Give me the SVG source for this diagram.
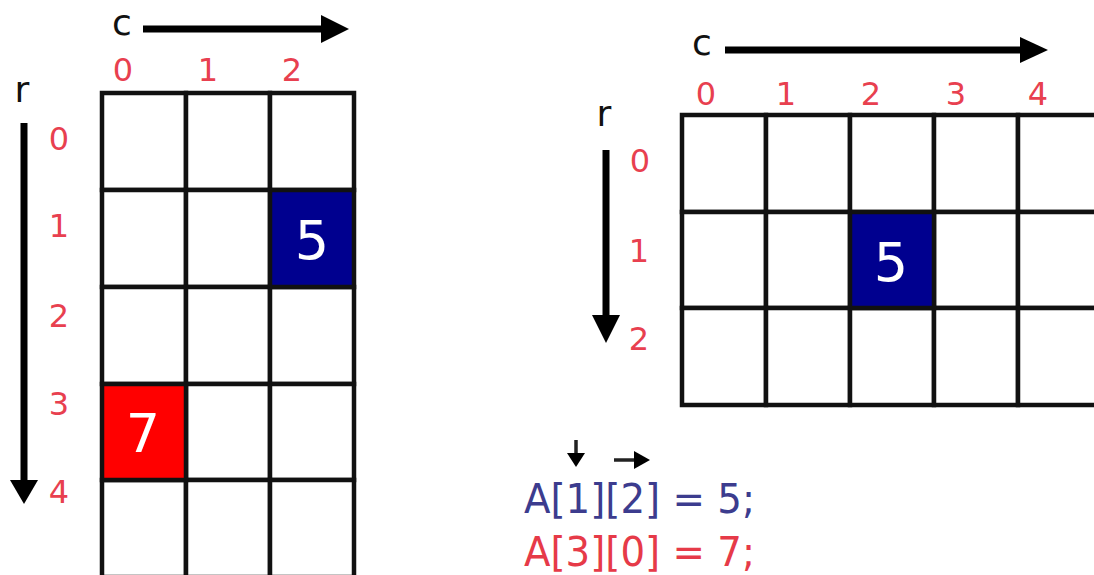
<svg xmlns="http://www.w3.org/2000/svg" width="1094" height="575" viewBox="0 0 1094 575">
<style>
.bg{fill:#ffffff}
.cell{fill:#ffffff;stroke:#111111;stroke-width:4.5}
.blue{fill:#00008f;stroke:#111111;stroke-width:4.5}
.red{fill:#ff0000;stroke:#111111;stroke-width:4.5}
.idx{font-family:"DejaVu Sans",Verdana,sans-serif;font-size:32px;fill:#e8404f;text-anchor:middle}
.axis{font-family:"DejaVu Sans",Verdana,sans-serif;font-size:36px;fill:#111111;text-anchor:middle}
.val{font-family:"DejaVu Sans",Verdana,sans-serif;font-size:54px;fill:#ffffff;text-anchor:middle}
.code{font-family:"DejaVu Sans",Verdana,sans-serif;font-size:40px}
.shaft{stroke:#000000;stroke-width:7;fill:none}
.thin{stroke:#222222;stroke-width:3.5;fill:none}
.head{fill:#000000}
</style>
<rect class="bg" x="0" y="0" width="1094" height="575"/>

<g id="left-grid">
  <rect class="cell" x="102" y="93" width="84" height="97"/>
  <rect class="cell" x="186" y="93" width="84" height="97"/>
  <rect class="cell" x="270" y="93" width="84" height="97"/>
  <rect class="cell" x="102" y="190" width="84" height="97"/>
  <rect class="cell" x="186" y="190" width="84" height="97"/>
  <rect class="cell" x="102" y="287" width="84" height="97"/>
  <rect class="cell" x="186" y="287" width="84" height="97"/>
  <rect class="cell" x="270" y="287" width="84" height="97"/>
  <rect class="cell" x="186" y="384" width="84" height="96"/>
  <rect class="cell" x="270" y="384" width="84" height="96"/>
  <rect class="cell" x="102" y="480" width="84" height="97"/>
  <rect class="cell" x="186" y="480" width="84" height="97"/>
  <rect class="cell" x="270" y="480" width="84" height="97"/>
</g>
<g id="left-cell-1-2">
  <rect class="blue" x="270" y="190" width="84" height="97"/>
  <text class="val" x="312" y="259">5</text>
</g>
<g id="left-cell-3-0">
  <rect class="red" x="102" y="384" width="84" height="96"/>
  <text class="val" x="143" y="452">7</text>
</g>
<g id="left-labels">
  <text class="axis" x="122" y="35">c</text>
  <text class="axis" x="22" y="102">r</text>
  <text class="idx" x="123" y="81">0</text>
  <text class="idx" x="208" y="81">1</text>
  <text class="idx" x="292" y="81">2</text>
  <text class="idx" x="59" y="150">0</text>
  <text class="idx" x="59" y="237">1</text>
  <text class="idx" x="59" y="327">2</text>
  <text class="idx" x="59" y="415">3</text>
  <text class="idx" x="59" y="503">4</text>
</g>

<g id="right-grid">
  <rect class="cell" x="682" y="115" width="84" height="97"/>
  <rect class="cell" x="766" y="115" width="84" height="97"/>
  <rect class="cell" x="850" y="115" width="84" height="97"/>
  <rect class="cell" x="934" y="115" width="84" height="97"/>
  <rect class="cell" x="1018" y="115" width="84" height="97"/>
  <rect class="cell" x="682" y="212" width="84" height="96"/>
  <rect class="cell" x="766" y="212" width="84" height="96"/>
  <rect class="cell" x="934" y="212" width="84" height="96"/>
  <rect class="cell" x="1018" y="212" width="84" height="96"/>
  <rect class="cell" x="682" y="308" width="84" height="97"/>
  <rect class="cell" x="766" y="308" width="84" height="97"/>
  <rect class="cell" x="850" y="308" width="84" height="97"/>
  <rect class="cell" x="934" y="308" width="84" height="97"/>
  <rect class="cell" x="1018" y="308" width="84" height="97"/>
</g>
<g id="right-cell-1-2">
  <rect class="blue" x="850" y="212" width="84" height="96"/>
  <text class="val" x="891" y="281">5</text>
</g>
<g id="right-labels">
  <text class="axis" x="702" y="55">c</text>
  <text class="axis" x="604" y="126">r</text>
  <text class="idx" x="706" y="105">0</text>
  <text class="idx" x="786" y="105">1</text>
  <text class="idx" x="871" y="105">2</text>
  <text class="idx" x="956" y="105">3</text>
  <text class="idx" x="1038" y="105">4</text>
  <text class="idx" x="640" y="172">0</text>
  <text class="idx" x="639" y="262">1</text>
  <text class="idx" x="639" y="350">2</text>
</g>

<g id="connectors">
  <line class="shaft" x1="143" y1="29" x2="324" y2="29"/>
  <polygon class="head" points="321,15 349,29 321,43"/>
  <line class="shaft" x1="24" y1="123" x2="24" y2="482"/>
  <polygon class="head" points="10,480 38,480 24,504"/>
  <line class="shaft" x1="725" y1="50" x2="1022" y2="50"/>
  <polygon class="head" points="1020,37 1048,50 1020,63"/>
  <line class="shaft" x1="606" y1="150" x2="606" y2="318"/>
  <polygon class="head" points="592,315 620,315 606,343"/>
  <line class="thin" x1="576" y1="440" x2="576" y2="456"/>
  <polygon class="head" points="567,453 585,453 576,467"/>
  <line class="thin" x1="614" y1="460" x2="637" y2="460"/>
  <polygon class="head" points="634,451 650,460 634,469"/>
</g>

<g id="code">
  <text class="code" x="524" y="513" fill="#3c3c8e" textLength="231" lengthAdjust="spacingAndGlyphs">A[1][2] = 5;</text>
  <text class="code" x="524" y="566" fill="#e63a48" textLength="231" lengthAdjust="spacingAndGlyphs">A[3][0] = 7;</text>
</g>
</svg>
